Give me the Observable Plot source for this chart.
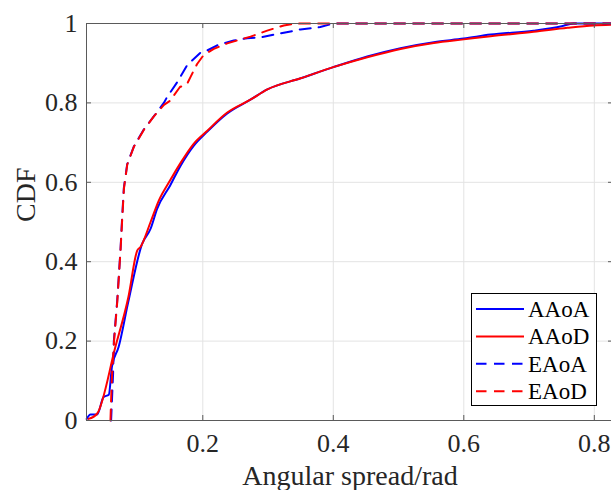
<!DOCTYPE html>
<html>
<head>
<meta charset="utf-8">
<script src="https://cdn.jsdelivr.net/npm/d3@7"></script>
<script src="https://cdn.jsdelivr.net/npm/@observablehq/plot@0.6"></script>
</head>
<body style="margin:0;background:#fff">
<div id="chart" style="position:relative;width:611px;height:490px;overflow:hidden"></div>
<script>
// ---- data ----
const seriesNames = ["AAoA", "AAoD", "EAoA", "EAoD"];
const seriesColors = ["#0000ff", "#ff0000", "#0000ff", "#ff0000"];
const seriesDashed = [false, false, true, true];

const aaoaX = [0.022, 0.028, 0.038, 0.048, 0.056, 0.061, 0.071, 0.086, 0.107, 0.120, 0.130, 0.150, 0.166, 0.186, 0.207, 0.237, 0.273, 0.299, 0.350, 0.400, 0.452, 0.503, 0.554, 0.600, 0.641, 0.707, 0.750, 0.768, 0.829];
const aaoaY = [0.004, 0.015, 0.015, 0.059, 0.065, 0.138, 0.185, 0.300, 0.445, 0.483, 0.533, 0.592, 0.642, 0.692, 0.728, 0.773, 0.808, 0.834, 0.862, 0.890, 0.917, 0.938, 0.953, 0.962, 0.972, 0.982, 0.993, 1.000, 1.000];

const aaodX = [0.025, 0.038, 0.066, 0.086, 0.0995, 0.1045, 0.120, 0.1326, 0.150, 0.166, 0.186, 0.207, 0.237, 0.273, 0.299, 0.350, 0.400, 0.452, 0.503, 0.554, 0.600, 0.641, 0.707, 0.759, 0.799, 0.829];
const aaodY = [0.004, 0.017, 0.185, 0.311, 0.428, 0.437, 0.500, 0.554, 0.605, 0.649, 0.697, 0.730, 0.775, 0.808, 0.834, 0.862, 0.890, 0.915, 0.936, 0.951, 0.960, 0.968, 0.979, 0.989, 0.995, 0.997];

const eaoaX = [0.0595, 0.0626, 0.0637, 0.0688, 0.0739, 0.0764, 0.0790, 0.0841, 0.0943, 0.1096, 0.1249, 0.1403, 0.1454, 0.1607, 0.1760, 0.1962, 0.2067, 0.2221, 0.2475, 0.268, 0.2884, 0.319, 0.3497, 0.380, 0.3957, 0.400, 0.829];
const eaoaY = [0.000, 0.120, 0.200, 0.300, 0.430, 0.510, 0.585, 0.645, 0.690, 0.733, 0.766, 0.800, 0.815, 0.852, 0.895, 0.926, 0.932, 0.945, 0.957, 0.963, 0.965, 0.975, 0.985, 0.991, 0.998, 1.000, 1.000];

const eaodX = [0.0585, 0.0605, 0.0640, 0.0690, 0.0740, 0.0766, 0.0792, 0.0843, 0.0945, 0.1100, 0.1250, 0.1405, 0.1505, 0.1535, 0.1650, 0.1760, 0.1811, 0.1913, 0.2015, 0.2169, 0.2374, 0.2731, 0.2987, 0.3241, 0.3395, 0.350, 0.829];
const eaodY = [0.000, 0.100, 0.200, 0.300, 0.430, 0.510, 0.585, 0.645, 0.690, 0.733, 0.766, 0.795, 0.806, 0.814, 0.840, 0.848, 0.865, 0.898, 0.921, 0.936, 0.950, 0.967, 0.982, 0.995, 0.999, 1.000, 1.000];

const xTicks = [0.2, 0.4, 0.6, 0.8];
const xTickLabels = ["0.2", "0.4", "0.6", "0.8"];
const yTicks = [0, 0.2, 0.4, 0.6, 0.8, 1];
const yTickLabels = ["0", "0.2", "0.4", "0.6", "0.8", "1"];
const xLabel = "Angular spread/rad";
const yLabel = "CDF";

// ---- build tables ----
const seriesX = [aaoaX, aaodX, eaoaX, eaodX];
const seriesY = [aaoaY, aaodY, eaoaY, eaodY];
const tables = seriesNames.map((name, k) => seriesX[k].map((x, i) => ({series: name, x, y: seriesY[k][i]})));

const FONT = "Liberation Serif";
const axisColor = "#262626";
const frameColor = "#5a5a5a";
const gridColor = "#e3e3e3";
const dash = "11,8";

const W = 611, H = 490;
const mL = 86, mR = -2, mT = 23, mB = 70;
const plotW = W - mL - mR, plotH = H - mT - mB;
const tickLen = 5;

const lineMarks = tables.map((t, k) => Plot.line(t, {
  x: "x", y: "y",
  stroke: seriesColors[k],
  strokeWidth: 2,
  strokeDasharray: seriesDashed[k] ? dash : null,
  strokeLinejoin: "round",
  curve: seriesDashed[k] ? "linear" : "monotone-x"
}));

const chart = Plot.plot({
  width: W, height: H,
  marginLeft: mL, marginRight: mR, marginTop: mT, marginBottom: mB,
  x: {domain: [0.0218, 0.8294]},
  y: {domain: [0, 1]},
  style: {background: "#fff", color: axisColor},
  marks: [
    Plot.gridX(xTicks, {stroke: gridColor, strokeOpacity: 1, strokeWidth: 1}),
    Plot.gridY(yTicks.slice(1, -1), {stroke: gridColor, strokeOpacity: 1, strokeWidth: 1}),
    ...lineMarks,
    Plot.frame({stroke: frameColor, strokeWidth: 1}),
    Plot.tickX(xTicks, {x: d => d, insetTop: plotH - tickLen, stroke: frameColor}),
    Plot.tickX(xTicks, {x: d => d, insetBottom: plotH - tickLen, stroke: frameColor}),
    Plot.tickY(yTicks, {y: d => d, insetRight: plotW - tickLen, stroke: frameColor}),
    Plot.tickY(yTicks, {y: d => d, insetLeft: plotW - tickLen, stroke: frameColor}),
    Plot.axisX(xTicks, {tickSize: 0, tickPadding: 13, fontSize: 26, fontFamily: FONT, label: null,
      tickFormat: d => xTickLabels[xTicks.indexOf(d)], fill: axisColor}),
    Plot.axisY(yTicks, {tickSize: 0, tickPadding: 9, fontSize: 26, fontFamily: FONT, label: null,
      tickFormat: d => yTickLabels[yTicks.indexOf(d)], fill: axisColor}),
    Plot.text([xLabel], {frameAnchor: "bottom", dy: 56, fontSize: 28, fontFamily: FONT, lineAnchor: "middle", fill: axisColor}),
    Plot.text([yLabel], {frameAnchor: "left", dx: -60, rotate: -90, fontSize: 28, fontFamily: FONT, lineAnchor: "middle", fill: axisColor})
  ]
});

const svg = d3.select(chart);
svg.attr("font-family", FONT);

// ---- legend (inside the axes, lower right) ----
const lg = svg.append("g").attr("font-family", FONT);
const box = {x: 471, y: 293, w: 125, h: 112};
lg.append("rect").attr("x", box.x + 0.5).attr("y", box.y + 0.5).attr("width", box.w).attr("height", box.h)
  .attr("fill", "#fff").attr("stroke", "#000").attr("stroke-width", 1);
seriesNames.forEach((name, k) => {
  const cy = 309 + k * 27.4;
  lg.append("line").attr("x1", 476).attr("x2", 524).attr("y1", cy).attr("y2", cy)
    .attr("stroke", seriesColors[k]).attr("stroke-width", 2)
    .attr("stroke-dasharray", seriesDashed[k] ? "10.5,7.5" : null);
  lg.append("text").attr("x", 528).attr("y", cy).attr("dy", "0.34em")
    .attr("text-anchor", "start").attr("font-family", FONT)
    .attr("font-size", 23).attr("fill", "#000").text(name);
});

document.getElementById("chart").appendChild(chart);
</script>
</body>
</html>
